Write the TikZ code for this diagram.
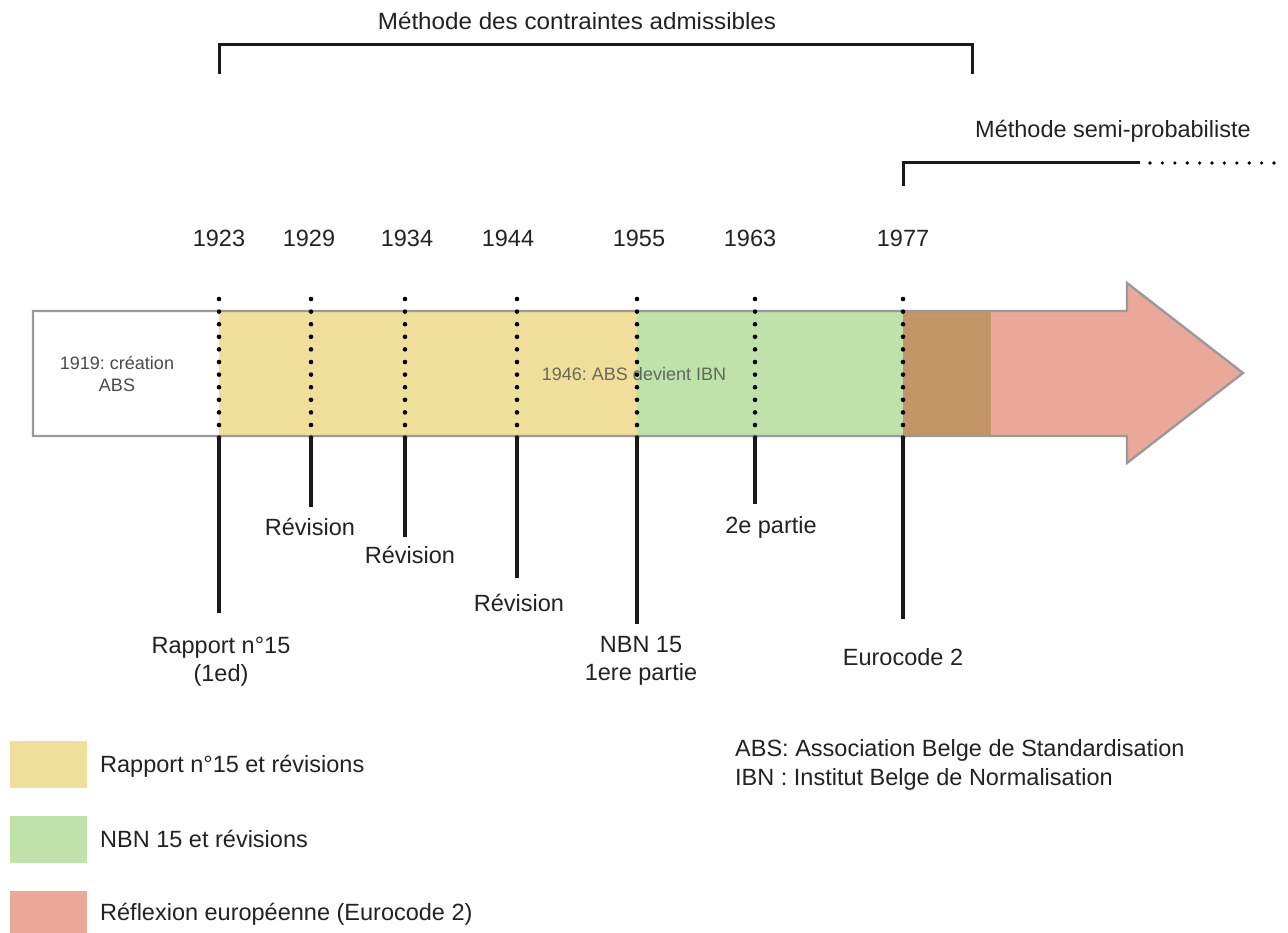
\documentclass[tikz,border=0pt]{standalone}
\usepackage{fontspec}
\setmainfont{Liberation Sans}
\frenchspacing
\definecolor{cyel}{HTML}{F0DF9A}
\definecolor{cgrn}{HTML}{BFE2AA}
\definecolor{cbrn}{HTML}{C29466}
\definecolor{cpnk}{HTML}{E9A89A}
\definecolor{cbord}{HTML}{9A9A9A}
\definecolor{ctxt}{HTML}{222222}
\definecolor{csmall}{HTML}{4A4A4A}
\tikzset{
  lbl/.style={font=\fontsize{23.5}{28}\selectfont, text=ctxt, inner sep=0pt, align=center},
  small/.style={font=\fontsize{18}{22}\selectfont, text=csmall, inner sep=0pt, align=center},
  dotline/.style={line width=4.6pt, line cap=round, dash pattern=on 0pt off 12.6pt},
  tick/.style={line width=3.2pt, black!90},
  brack/.style={line width=3pt, black!90},
  legbox/.style={minimum width=77pt, minimum height=47pt, inner sep=0pt},
}
\begin{document}
\begin{tikzpicture}[x=1pt,y=-1pt]
\useasboundingbox (0,0) rectangle (1288,933);
% arrow fills
\path[fill=white] (33,311) rectangle (219,436);
\path[fill=cyel] (219,311) rectangle (637,436);
\path[fill=cgrn] (637,311) rectangle (903,436);
\path[fill=cbrn] (903,311) rectangle (991,436);
\path[fill=cpnk] (991,311) -- (1127,311) -- (1127,283) -- (1243,373) -- (1127,463) -- (1127,436) -- (991,436) -- cycle;
\draw[cbord, line width=2.4pt, line join=miter] (33,311) -- (1127,311) -- (1127,283) -- (1243,373) -- (1127,463) -- (1127,436) -- (33,436) -- cycle;
% inner labels
\node[small] (abs) at (117,374) {1919: création\\ABS};
\node[small, text opacity=0.8] (ibn) at (634,374) {1946: ABS devient IBN};
% year coordinates
\foreach \n/\x/\e in {a/219/613, b/311/507, c/405/537, d/517/578, e/637/624, f/755/504, g/903/619}{
  \coordinate (\n top) at (\x,299);
  \coordinate (\n bar) at (\x,436);
  \coordinate (\n end) at (\x,\e);
}
\foreach \n in {a,b,c,d,e,f,g}{
  \draw[dotline] (\n top) -- ([yshift=-4pt]\n bar);
  \draw[tick] (\n bar) -- (\n end);
}
% years
\node[lbl] (y1923) at (219,238) {1923};
\node[lbl] (y1929) at (309,238) {1929};
\node[lbl] (y1934) at (407,238) {1934};
\node[lbl] (y1944) at (508,238) {1944};
\node[lbl] (y1955) at (639,238) {1955};
\node[lbl] (y1963) at (750,238) {1963};
\node[lbl] (y1977) at (903,238) {1977};
% labels below
\node[lbl] (rap) at (221,662) {Rapport n°15\\(1ed)};
\node[lbl] (rev1) at (310,527) {Révision};
\node[lbl] (rev2) at (410,555) {Révision};
\node[lbl] (rev3) at (519,603) {Révision};
\node[lbl] (nbn) at (641,661) {NBN 15\\1ere partie};
\node[lbl] (part2) at (771,527) {2e partie};
\node[lbl] (euro) at (903,657) {Eurocode 2};
% top bracket
\node[lbl, xscale=1.03] (mca) at (577,21) {Méthode des contraintes admissibles};
\coordinate (ml) at (219,74);
\coordinate (mr) at (972,74);
\draw[brack] (ml) -- (219,45) -- (972,45) -- (mr);
% second bracket
\node[lbl] (msp) at (1113,131) {Méthode semi-probabiliste};
\coordinate (sl) at (903,186);
\coordinate (sm) at (1140,163);
\coordinate (sr) at (1286,163);
\draw[brack] (sl) -- (903,163) -- (sm);
\draw[line width=3.6pt, line cap=round, dash pattern=on 0pt off 12.4pt] ([xshift=10pt]sm) -- (sr);
% legend
\node[legbox, fill=cyel, anchor=north west] (l1) at (10,741) {};
\node[legbox, fill=cgrn, anchor=north west] (l2) at (10,816) {};
\node[legbox, fill=cpnk, anchor=north west, minimum height=50pt] (l3) at (10,891) {};
\node[lbl, anchor=west] (t1) at (100,766) {Rapport n°15 et révisions};
\node[lbl, anchor=west] (t2) at (100,839) {NBN 15 et révisions};
\node[lbl, anchor=west] (t3) at (100,914) {Réflexion européenne (Eurocode 2)};
\node[lbl, anchor=west] (n1) at (735,750) {ABS: Association Belge de Standardisation};
\node[lbl, anchor=west] (n2) at (735,779) {IBN : Institut Belge de Normalisation};
\end{tikzpicture}
\end{document}
